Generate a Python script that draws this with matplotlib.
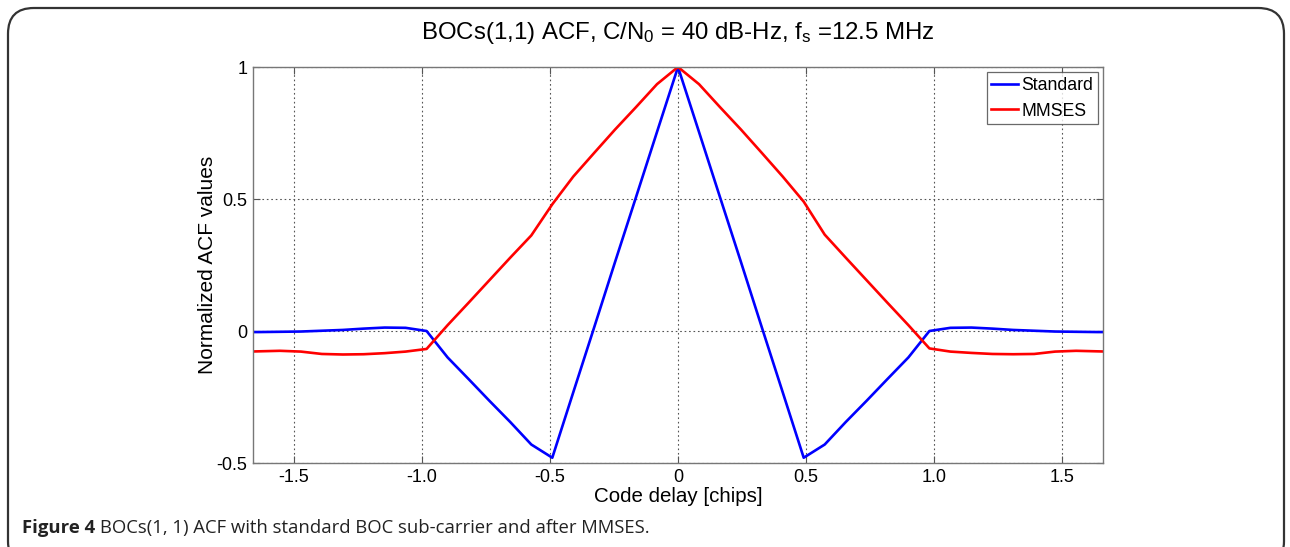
import matplotlib
matplotlib.use("Agg")
import matplotlib.pyplot as plt
from matplotlib.patches import FancyBboxPatch

plt.rcParams['font.family'] = ['Liberation Sans', 'DejaVu Sans']
plt.rcParams['mathtext.fontset'] = 'custom'
plt.rcParams['mathtext.rm'] = 'Liberation Sans'
plt.rcParams['mathtext.it'] = 'Liberation Sans'

# Code delay sample points (chips), fs = 12.5 MHz
delay = [-1.719, -1.637, -1.555, -1.473, -1.391, -1.309, -1.228, -1.146, -1.064,
         -0.982, -0.900, -0.818, -0.737, -0.655, -0.573, -0.491, -0.409, -0.327,
         -0.246, -0.164, -0.082, 0.0, 0.082, 0.164, 0.246, 0.327, 0.409, 0.491,
         0.573, 0.655, 0.737, 0.818, 0.900, 0.982, 1.064, 1.146, 1.228, 1.309,
         1.391, 1.473, 1.555, 1.637, 1.719]

standard = [-0.004, -0.004, -0.003, -0.002, 0.001, 0.004, 0.009, 0.013, 0.012,
            0.000, -0.100, -0.182, -0.264, -0.345, -0.430, -0.480, -0.232, 0.015,
            0.261, 0.507, 0.754, 1.000, 0.754, 0.507, 0.261, 0.015, -0.232, -0.480,
            -0.430, -0.345, -0.264, -0.182, -0.100, 0.000, 0.012, 0.013, 0.009,
            0.004, 0.001, -0.002, -0.003, -0.004, -0.004]

mmses = [-0.079, -0.077, -0.075, -0.078, -0.087, -0.089, -0.088, -0.084, -0.078,
         -0.068, 0.022, 0.107, 0.192, 0.278, 0.362, 0.480, 0.585, 0.675, 0.763,
         0.848, 0.935, 1.000, 0.935, 0.848, 0.763, 0.675, 0.585, 0.490, 0.365,
         0.278, 0.192, 0.107, 0.022, -0.066, -0.078, -0.083, -0.087, -0.088,
         -0.087, -0.078, -0.075, -0.077, -0.079]

xticks = [-1.5, -1.0, -0.5, 0, 0.5, 1.0, 1.5]
xticklabels = ['-1.5', '-1.0', '-0.5', '0', '0.5', '1.0', '1.5']
yticks = [-0.5, 0, 0.5, 1]
yticklabels = ['-0.5', '0', '0.5', '1']

W, H = 1290, 547
fig = plt.figure(figsize=(W / 100, H / 100), dpi=100)

# rounded frame
frame = FancyBboxPatch((8 / W, -20 / H), (1284 - 8) / W, (H - 8 + 20) / H,
                       boxstyle="round,pad=0,rounding_size=0.02",
                       transform=fig.transFigure, facecolor='white',
                       edgecolor='#333333', linewidth=1.6, zorder=-10,
                       mutation_aspect=W / H)
fig.patches.append(frame)

ax = fig.add_axes([253 / W, 1 - 463 / H, (1103 - 253) / W, (463 - 67) / H])
ax.plot(delay, standard, color='#0000ff', lw=1.9, label='Standard')
ax.plot(delay, mmses, color='#ff0000', lw=1.9, label='MMSES')

ax.set_xlim(-1.66, 1.66)
ax.set_ylim(-0.5, 1.0)
ax.set_xticks(xticks)
ax.set_xticklabels(xticklabels)
ax.set_yticks(yticks)
ax.set_yticklabels(yticklabels)
ax.tick_params(direction='in', length=5, width=0.8, color='#555555',
               labelsize=13, top=True, right=True, pad=4)
ax.grid(True, linestyle=(0, (1.5, 2.5)), color='#555555', linewidth=0.8)
for s in ax.spines.values():
    s.set_color('#777777')
    s.set_linewidth(1.0)

ax.set_xlabel('Code delay [chips]', fontsize=14.8, labelpad=1)
ax.set_ylabel('Normalized ACF values', fontsize=15, labelpad=0)
ax.set_title('BOCs(1,1) ACF, C/N$_{\\mathrm{0}}$ = 40 dB-Hz, f$_{\\mathrm{s}}$ =12.5 MHz',
             fontsize=17.3, pad=20)

leg = ax.legend(loc='upper right', fontsize=12.7, frameon=True, fancybox=False,
                handlelength=1.5, handletextpad=0.2, borderpad=0.25,
                labelspacing=0.5, borderaxespad=0.3)
leg.get_frame().set_edgecolor('#444444')
leg.get_frame().set_linewidth(0.9)

# caption
renderer = fig.canvas.get_renderer()
cap_y = 1 - 533 / H
t1 = fig.text(22 / W, cap_y, 'Figure 4', fontsize=13.3, fontweight='bold',
              family=['Open Sans', 'DejaVu Sans'], va='baseline', ha='left', color='#222222')
bb = t1.get_window_extent(renderer=renderer)
fig.text((bb.x1 + 5) / W, cap_y,
         'BOCs(1, 1) ACF with standard BOC sub-carrier and after MMSES.',
         fontsize=13.3, family=['Open Sans', 'DejaVu Sans'], va='baseline', ha='left',
         color='#222222')

fig.savefig('out.png', dpi=100)
